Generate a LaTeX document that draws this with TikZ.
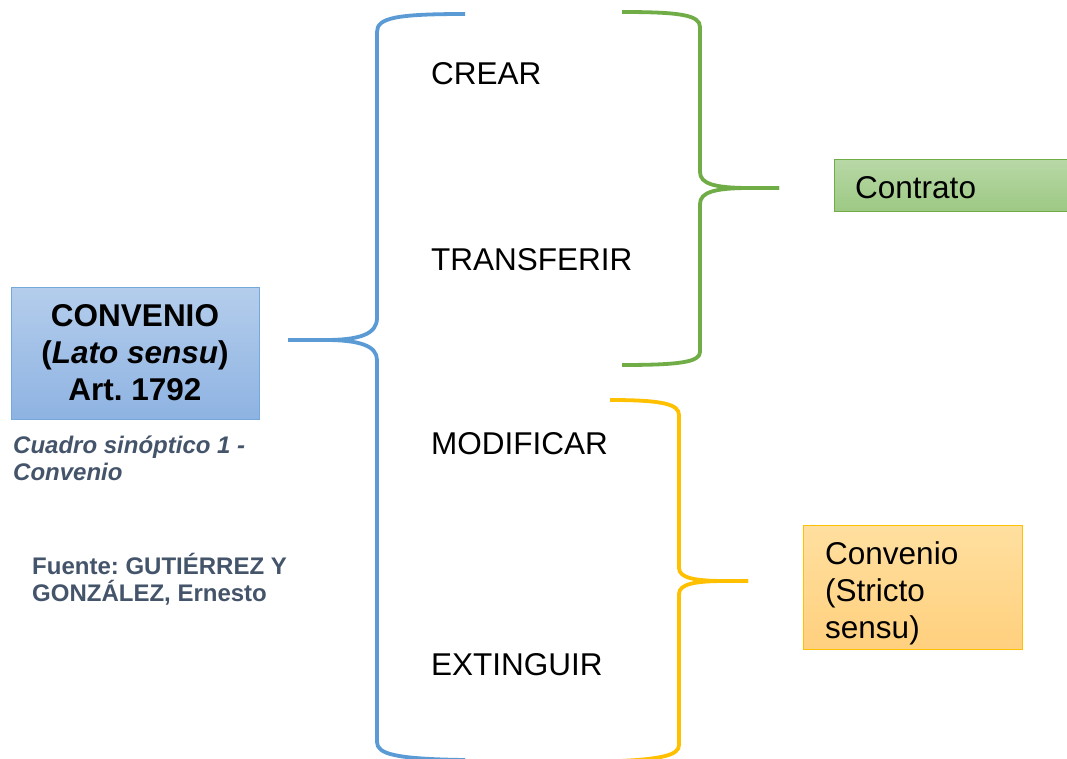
\documentclass[tikz,border=0pt]{standalone}
\usepackage{fontspec}
\setmainfont{Liberation Sans}
\frenchspacing
\definecolor{bbrace}{HTML}{5B9BD5}
\definecolor{gbrace}{HTML}{70AD47}
\definecolor{ybrace}{HTML}{FFC000}
\definecolor{captc}{HTML}{44546A}
\definecolor{btop}{HTML}{B4CDEC}
\definecolor{bbot}{HTML}{8EB3E2}
\definecolor{gtop}{HTML}{B8D8A6}
\definecolor{gbot}{HTML}{9DC984}
\definecolor{ytop}{HTML}{FFDF9F}
\definecolor{ybot}{HTML}{FFD07E}
\begin{document}
\begin{tikzpicture}[x=1pt,y=-1pt,
  brace/.style={line width=3.8pt,line cap=butt,line join=round},
  big/.style={font=\fontsize{31.5}{37}\selectfont,inner sep=0pt},
  item/.style={big,anchor=base west},
  capt/.style={font=\fontsize{24}{27}\selectfont\bfseries,text=captc,inner sep=0pt,anchor=north west,align=left}]
\useasboundingbox (0,0) rectangle (1067,759);
\fill[white] (0,0) rectangle (1067,759);

% main box
\node[draw=bbrace!85,line width=0.8pt,top color=btop,bottom color=bbot,
  minimum width=248pt,minimum height=132pt,anchor=north west,inner sep=0pt] (conv) at (11,287) {};
\node[big,anchor=north,align=center,font=\fontsize{31.5}{37}\selectfont\bfseries] (convt) at (135,304)
  {CONVENIO\\(\textit{Lato sensu})\\Art. 1792};

\node[capt,font=\fontsize{24}{27}\selectfont\bfseries\itshape] (cap1) at (13,436) {Cuadro sinóptico 1 -\\Convenio};
\node[capt] (cap2) at (32,553) {Fuente: GUTIÉRREZ Y\\GONZÁLEZ, Ernesto};

% items
\node[item] (crear) at (431,85) {CREAR};
\node[item] (transf) at (431,270) {TRANSFERIR};
\node[item] (modif) at (431,454) {MODIFICAR};
\node[item] (extin) at (431,675) {EXTINGUIR};

% result boxes
\node[draw=gbrace,line width=0.8pt,top color=gtop,bottom color=gbot,
  minimum width=250pt,minimum height=52pt,anchor=north west,inner sep=0pt] (contr) at (834,159) {};
\node[big,anchor=base west] (contrt) at (855,199) {Contrato};

\node[draw=ybrace,line width=0.8pt,top color=ytop,bottom color=ybot,
  minimum width=219pt,minimum height=124pt,anchor=north west,inner sep=0pt] (cstr) at (803,525) {};
\node[big,anchor=north west,align=left] (cstrt) at (825,541) {Convenio\\(Stricto\\sensu)};

% tips
\coordinate (btip) at (288,340);
\coordinate (gtip) at (779,188);
\coordinate (ytip) at (748,581);

% blue brace
\draw[brace,bbrace] (465,14) .. controls (395,14) and (377,18) .. (377,32) -- (377,318)
  .. controls (377,334) and (360,340) .. (325,340) -- (btip);
\draw[brace,bbrace] (btip) -- (325,340) .. controls (360,340) and (377,346) .. (377,360)
  -- (377,742) .. controls (377,754) and (395,759) .. (465,760);

% green brace
\draw[brace,gbrace] (622,12) .. controls (680,12) and (700,15) .. (700,27) -- (700,172)
  .. controls (700,184) and (715,188) .. (750,188) -- (gtip);
\draw[brace,gbrace] (gtip) -- (750,188) .. controls (715,188) and (700,192) .. (700,204)
  -- (700,352) .. controls (700,362) and (680,365) .. (622,365);

% yellow brace
\draw[brace,ybrace] (610,400) .. controls (662,400) and (679,404) .. (679,415) -- (679,568)
  .. controls (679,578) and (695,581) .. (725,581) -- (ytip);
\draw[brace,ybrace] (ytip) -- (725,581) .. controls (695,581) and (679,584) .. (679,594)
  -- (679,745) .. controls (679,755) and (662,759) .. (620,761);
\end{tikzpicture}
\end{document}
